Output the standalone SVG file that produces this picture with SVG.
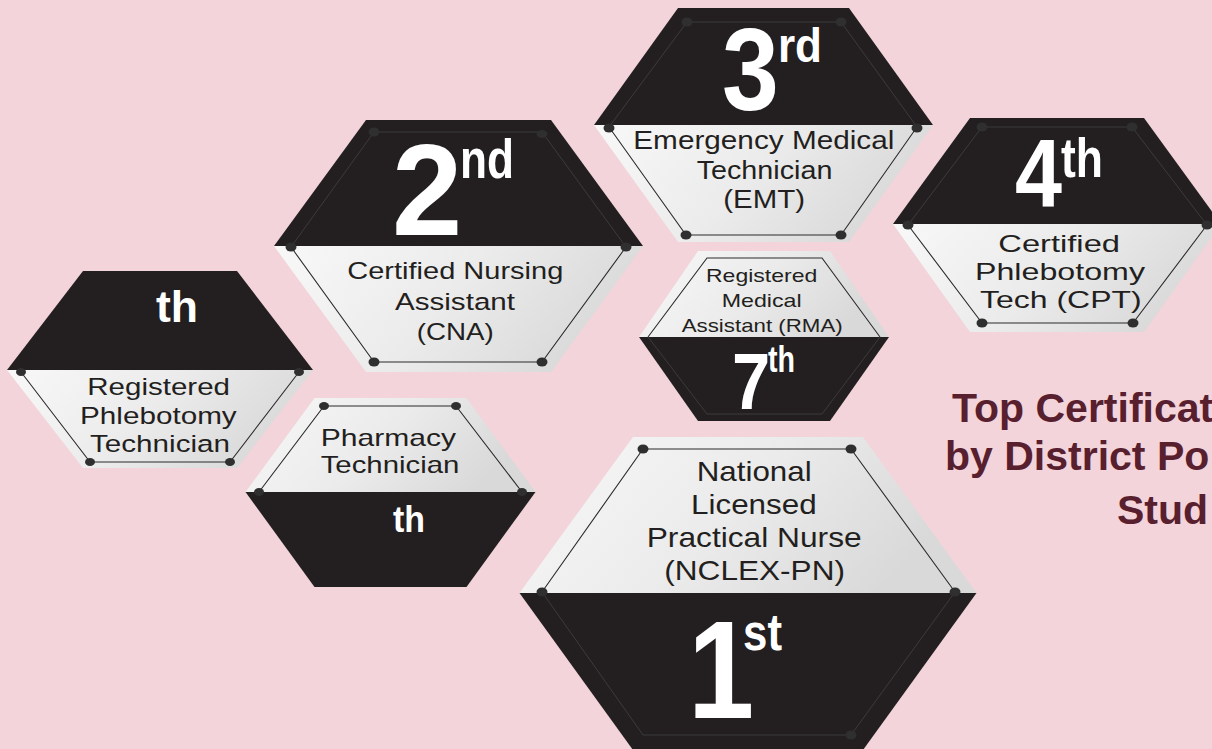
<svg xmlns="http://www.w3.org/2000/svg" width="1212" height="749" viewBox="0 0 1212 749">
<defs>
<linearGradient id="lg" x1="0" y1="0" x2="1" y2="0.3">
<stop offset="0" stop-color="#f8f8f8"/>
<stop offset="0.55" stop-color="#ebebeb"/>
<stop offset="1" stop-color="#d9d9d9"/>
</linearGradient>
<style>
.blk{fill:#231f20}
.lt{fill:url(#lg)}
.il{fill:none;stroke:#2b2b2b;stroke-width:1.1}
.id{fill:none;stroke:#3c3a3b;stroke-width:1}
.dot{fill:#2f2f2f}
.tx{font-family:"Liberation Sans",Arial,sans-serif;fill:#231f20}
.num{font-family:"Liberation Sans",Arial,sans-serif;font-weight:bold;fill:#ffffff}
.ttl{font-family:"Liberation Sans",Arial,sans-serif;font-weight:bold;fill:#58202f;font-size:41px}
</style>
</defs>
<rect width="1212" height="749" fill="#f2d4da"/>

<g id="hex-1st">
<polygon class="lt" points="633,437 863,437 976.5,593 519.5,593"/>
<polygon class="blk" points="519.5,593 976.5,593 863,750 633,750"/>
<polyline class="il" points="542,592 643,449 851,449 955,592"/>
<polyline class="id" points="542,592 643,735 851,735 955,592"/>
<ellipse class="dot" cx="643" cy="449" rx="5.5" ry="4.5"/>
<ellipse class="dot" cx="851" cy="449" rx="5.5" ry="4.5"/>
<ellipse class="dot" cx="542" cy="592" rx="5.5" ry="4.5"/>
<ellipse class="dot" cx="955" cy="592" rx="5.5" ry="4.5"/>
<ellipse class="dot" cx="851" cy="735" rx="5.5" ry="4.5"/>
<text class="tx" font-size="28" x="696.7" y="481" textLength="115" lengthAdjust="spacingAndGlyphs">National</text>
<text class="tx" font-size="28" x="691" y="514" textLength="125.7" lengthAdjust="spacingAndGlyphs">Licensed</text>
<text class="tx" font-size="28" x="646.7" y="547" textLength="215" lengthAdjust="spacingAndGlyphs">Practical Nurse</text>
<text class="tx" font-size="28" x="664.3" y="580" textLength="180.7" lengthAdjust="spacingAndGlyphs">(NCLEX-PN)</text>
<text class="num" font-size="140" letter-spacing="-28" transform="translate(688,718) scale(0.85,1)">1</text>
<text class="num" font-size="52" x="743" y="650" textLength="39" lengthAdjust="spacingAndGlyphs">st</text>
</g>

<g id="hex-2nd">
<polygon class="blk" points="366,120 551,120 643,246 274,246"/>
<polygon class="lt" points="274,246 643,246 551,372 366,372"/>
<polyline class="id" points="291,247 374,132 542,132 626,247"/>
<polyline class="il" points="291,247 374,362 542,362 626,247"/>
<ellipse class="dot" cx="374" cy="132" rx="5.5" ry="4.5"/>
<ellipse class="dot" cx="542" cy="134" rx="5.5" ry="4"/>
<ellipse class="dot" cx="291" cy="247" rx="5.5" ry="4.5"/>
<ellipse class="dot" cx="626" cy="247" rx="5.5" ry="4.5"/>
<ellipse class="dot" cx="374" cy="362" rx="5.5" ry="4.5"/>
<ellipse class="dot" cx="542" cy="362" rx="5.5" ry="4.5"/>
<text class="tx" font-size="24.5" x="347.3" y="279" textLength="216" lengthAdjust="spacingAndGlyphs">Certified Nursing</text>
<text class="tx" font-size="24.5" x="395" y="310" textLength="120" lengthAdjust="spacingAndGlyphs">Assistant</text>
<text class="tx" font-size="24.5" x="416.7" y="339.5" textLength="77" lengthAdjust="spacingAndGlyphs">(CNA)</text>
<text class="num" font-size="129" letter-spacing="-12" transform="translate(392,235) scale(0.98,1)">2</text>
<text class="num" font-size="55" x="460" y="178" textLength="54" lengthAdjust="spacingAndGlyphs">nd</text>
</g>

<g id="hex-3rd">
<polygon class="blk" points="678,8 849,8 933,125 594,125"/>
<polygon class="lt" points="594,125 933,125 849,242 678,242"/>
<polyline class="id" points="609,127 687,22 841,22 917,127"/>
<polyline class="il" points="609,127 686,235 841,235 917,127"/>
<ellipse class="dot" cx="687" cy="22" rx="5.5" ry="4.5"/>
<ellipse class="dot" cx="841" cy="22" rx="5.5" ry="4.5"/>
<ellipse class="dot" cx="609" cy="128" rx="5.5" ry="4.5"/>
<ellipse class="dot" cx="917" cy="128" rx="5.5" ry="4.5"/>
<ellipse class="dot" cx="686" cy="235" rx="5.5" ry="4.5"/>
<ellipse class="dot" cx="841" cy="235" rx="5.5" ry="4.5"/>
<text class="tx" font-size="25" x="633.3" y="149" textLength="261" lengthAdjust="spacingAndGlyphs">Emergency Medical</text>
<text class="tx" font-size="25" x="696.7" y="179" textLength="135.7" lengthAdjust="spacingAndGlyphs">Technician</text>
<text class="tx" font-size="25" x="723.3" y="208" textLength="81.7" lengthAdjust="spacingAndGlyphs">(EMT)</text>
<text class="num" font-size="116" letter-spacing="-12" transform="translate(722,110) scale(0.88,1)">3</text>
<text class="num" font-size="48" x="778" y="62" textLength="44" lengthAdjust="spacingAndGlyphs">rd</text>
</g>

<g id="hex-4th">
<polygon class="blk" points="970,118 1144,118 1221,224 893,224"/>
<polygon class="lt" points="893,224 1221,224 1144,332 970,332"/>
<polyline class="id" points="908,225 982,127 1132,127 1207,225"/>
<polyline class="il" points="908,225 982,323 1133,323 1207,225"/>
<ellipse class="dot" cx="982" cy="127" rx="5.5" ry="4.5"/>
<ellipse class="dot" cx="1132" cy="127" rx="5.5" ry="4.5"/>
<ellipse class="dot" cx="908" cy="225" rx="5.5" ry="4.5"/>
<ellipse class="dot" cx="1207" cy="225" rx="5.5" ry="4.5"/>
<ellipse class="dot" cx="982" cy="323" rx="5.5" ry="4.5"/>
<ellipse class="dot" cx="1133" cy="323" rx="5.5" ry="4.5"/>
<text class="tx" font-size="24" x="998.3" y="252" textLength="121.7" lengthAdjust="spacingAndGlyphs">Certified</text>
<text class="tx" font-size="24" x="975" y="280" textLength="170" lengthAdjust="spacingAndGlyphs">Phlebotomy</text>
<text class="tx" font-size="24" x="980" y="308" textLength="161.7" lengthAdjust="spacingAndGlyphs">Tech (CPT)</text>
<text class="num" font-size="96" letter-spacing="-10" transform="translate(1015,207) scale(0.88,1)">4</text>
<text class="num" font-size="55" x="1061" y="177" textLength="42" lengthAdjust="spacingAndGlyphs">th</text>
</g>

<g id="hex-5th">
<polygon class="blk" points="83,271 237,271 313,370 7,370"/>
<polygon class="lt" points="7,370 313,370 237,468 83,468"/>
<polyline class="il" points="21,372 90,462 230,462 299,372"/>
<ellipse class="dot" cx="21" cy="372" rx="5" ry="4"/>
<ellipse class="dot" cx="299" cy="372" rx="5" ry="4"/>
<ellipse class="dot" cx="90" cy="462" rx="5" ry="4"/>
<ellipse class="dot" cx="230" cy="462" rx="5" ry="4"/>
<text class="tx" font-size="24.5" x="87.3" y="394.5" textLength="142.7" lengthAdjust="spacingAndGlyphs">Registered</text>
<text class="tx" font-size="24.5" x="80" y="424" textLength="156.7" lengthAdjust="spacingAndGlyphs">Phlebotomy</text>
<text class="tx" font-size="24.5" x="90" y="452" textLength="140" lengthAdjust="spacingAndGlyphs">Technician</text>
<text class="num" font-size="44" x="156" y="322" textLength="42" lengthAdjust="spacingAndGlyphs">th</text>
</g>

<g id="hex-6th">
<polygon class="lt" points="314.5,398 466.5,398 535.5,492 245.5,492"/>
<polygon class="blk" points="245.5,492 535.5,492 466.5,587 314.5,587"/>
<polyline class="il" points="259,492 324,406 456,406 522,492"/>
<ellipse class="dot" cx="324" cy="406" rx="5" ry="4"/>
<ellipse class="dot" cx="456" cy="406" rx="5" ry="4"/>
<ellipse class="dot" cx="259" cy="492" rx="5" ry="4"/>
<ellipse class="dot" cx="522" cy="492" rx="5" ry="4"/>
<text class="tx" font-size="24" x="320.7" y="445.7" textLength="135.3" lengthAdjust="spacingAndGlyphs">Pharmacy</text>
<text class="tx" font-size="24" x="320.7" y="473.3" textLength="138.7" lengthAdjust="spacingAndGlyphs">Technician</text>
<text class="num" font-size="37" x="393" y="532" textLength="32" lengthAdjust="spacingAndGlyphs">th</text>
</g>

<g id="hex-7th">
<polygon class="lt" points="698,251 830,251 889,337 639,337"/>
<polygon class="blk" points="639,337 889,337 830,421 698,421"/>
<polyline class="il" points="648,337 707,258 822,258 880,337"/>
<polyline class="id" points="648,337 707,414 822,414 880,337"/>
<text class="tx" font-size="19" x="706" y="281.7" textLength="111.3" lengthAdjust="spacingAndGlyphs">Registered</text>
<text class="tx" font-size="19" x="721.7" y="307.3" textLength="80" lengthAdjust="spacingAndGlyphs">Medical</text>
<text class="tx" font-size="19" x="681.7" y="332.3" textLength="161" lengthAdjust="spacingAndGlyphs">Assistant (RMA)</text>
<text class="num" font-size="80" letter-spacing="-9" transform="translate(732,409) scale(0.86,1)">7</text>
<text class="num" font-size="37" x="768" y="372" textLength="27" lengthAdjust="spacingAndGlyphs">th</text>
</g>

<g id="title">
<text class="ttl" x="952" y="422">Top Certificat</text>
<text class="ttl" x="945" y="470">by District Po</text>
<text class="ttl" x="1117" y="524">Stud</text>
</g>
<g id="connectors"/>
</svg>
